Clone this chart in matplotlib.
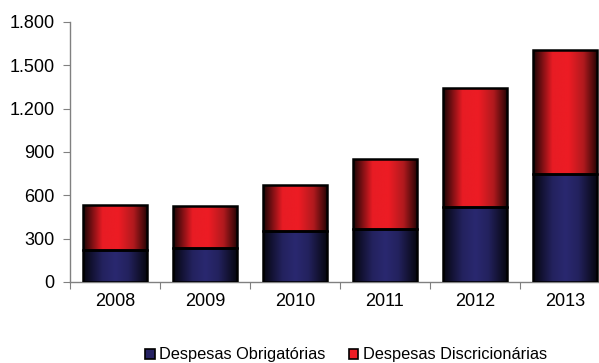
import matplotlib
matplotlib.use("Agg")
import matplotlib.pyplot as plt
import numpy as np
from matplotlib.colors import LinearSegmentedColormap
from matplotlib.patches import Patch

years = ["2008", "2009", "2010", "2011", "2012", "2013"]
obrigatorias = [219, 238, 353, 367, 521, 750]
discricionarias = [314, 288, 319, 483, 825, 856]
yticks = [0, 300, 600, 900, 1200, 1500, 1800]
ytick_labels = ["0", "300", "600", "900", "1.200", "1.500", "1.800"]
series_names = ["Despesas Obrigatórias", "Despesas Discricionárias"]

plt.rcParams['font.family'] = ['Liberation Sans', 'DejaVu Sans']

fig = plt.figure(figsize=(5.99, 3.63), dpi=100)
ax = fig.add_axes([70/599, 81/363, 540/599, 260/363])

x = np.arange(len(years))
w = 0.72
b1 = ax.bar(x, obrigatorias, w, color='#262262', edgecolor='black', linewidth=1.8, zorder=3)
b2 = ax.bar(x, discricionarias, w, bottom=obrigatorias, color='#ED1C24', edgecolor='black', linewidth=1.8, zorder=3)

cmap_blue = LinearSegmentedColormap.from_list('b', [(0, '#05050f'), (0.3, '#23225e'), (0.5, '#2a2870'), (0.7, '#23225e'), (1, '#05050c')])
cmap_red = LinearSegmentedColormap.from_list('r', [(0, '#1a0505'), (0.3, '#e81c24'), (0.55, '#ed1c24'), (0.78, '#b01a1e'), (1, '#200303')])
grad = np.linspace(0, 1, 256).reshape(1, -1)
for bars, cm in ((b1, cmap_blue), (b2, cmap_red)):
    for p in bars:
        x0, y0 = p.get_x(), p.get_y()
        im = ax.imshow(grad, cmap=cm, aspect='auto', extent=(x0, x0 + p.get_width(), y0, y0 + p.get_height()), zorder=3.5)
        im.set_clip_path(p)
        p.set_facecolor('none')
        p.set_zorder(4)

ax.set_xlim(-0.5, len(years) - 0.5)
ax.set_ylim(0, 1800)
ax.set_yticks(yticks)
ax.set_yticklabels(ytick_labels)
ax.set_xticks(np.arange(len(years) + 1) - 0.5)
ax.set_xticklabels([])
ax.set_xticks(x, minor=True)
ax.set_xticklabels(years, minor=True)
ax.tick_params(axis='x', which='minor', length=0, pad=8, labelsize=13)
ax.tick_params(axis='x', which='major', length=5, color='#808080', direction='out')
ax.tick_params(axis='y', length=5, color='#808080', direction='out', labelsize=13, pad=6)
for s in ['top', 'right']:
    ax.spines[s].set_visible(False)
for s in ['left', 'bottom']:
    ax.spines[s].set_color('#808080')
    ax.spines[s].set_linewidth(1)

handles = [Patch(facecolor='#262262', edgecolor='black', linewidth=1.2),
           Patch(facecolor='#ED1C24', edgecolor='black', linewidth=1.2)]
fig.legend(handles, series_names, loc='center', bbox_to_anchor=(346/599, 1 - 355/363), ncol=2,
           frameon=False, fontsize=11.8, handlelength=0.6, handleheight=0.6, handletextpad=0.25,
           columnspacing=1.4)

fig.savefig('out.png', dpi=100)
